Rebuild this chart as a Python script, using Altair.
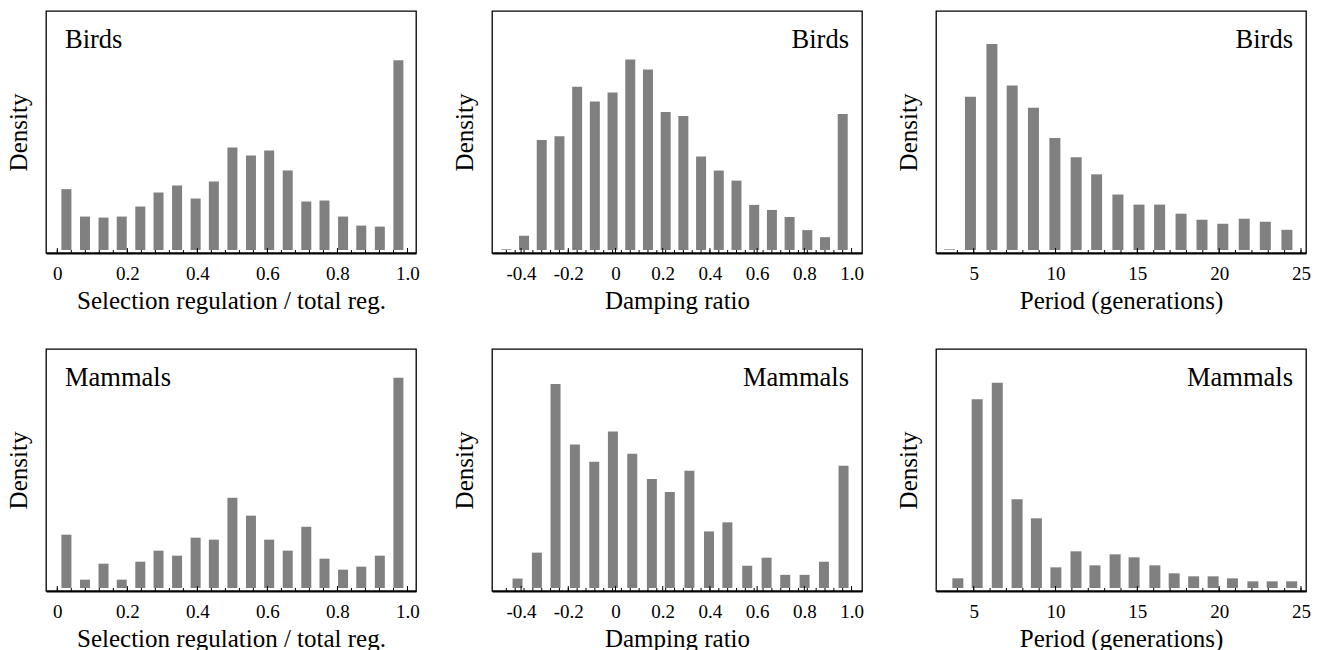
import altair as alt
import pandas as pd

# ---------------- data ----------------
GROUPS = ["Birds", "Mammals"]

SEL_TITLE = "Selection regulation / total reg."
DAMP_TITLE = "Damping ratio"
PER_TITLE = "Period (generations)"

# Selection regulation / total regulation (bin centres, relative density)
SEL_CENTERS = [0.026, 0.079, 0.132, 0.184, 0.237, 0.289, 0.342, 0.395, 0.447, 0.500,
               0.553, 0.605, 0.658, 0.711, 0.763, 0.816, 0.868, 0.921, 0.974]
BIRD_SEL = [1.82, 1.00, 0.97, 1.00, 1.30, 1.72, 1.93, 1.54, 2.05, 3.07,
            2.83, 2.98, 2.38, 1.45, 1.48, 1.00, 0.73, 0.70, 5.68]
MAMMAL_SEL = [1.60, 0.25, 0.73, 0.25, 0.79, 1.12, 0.97, 1.51, 1.45, 2.71,
              2.17, 1.45, 1.12, 1.84, 0.88, 0.55, 0.64, 0.97, 6.31]

# Damping ratio
BIRD_DAMP_CENTERS = [-0.4625, -0.3875, -0.3125, -0.2375, -0.1625, -0.0875, -0.0125, 0.0625,
                     0.1375, 0.2125, 0.2875, 0.3625, 0.4375, 0.5125, 0.5875, 0.6625,
                     0.7375, 0.8125, 0.8875, 0.9625]
BIRD_DAMP = [0.02, 0.42, 3.27, 3.38, 4.85, 4.41, 4.68, 5.66, 5.36, 4.10,
             3.98, 2.78, 2.36, 2.06, 1.34, 1.19, 0.98, 0.59, 0.38, 4.04]
MAMMAL_DAMP_CENTERS = [-0.415, -0.333, -0.254, -0.172, -0.090, -0.011, 0.071, 0.154, 0.230,
                       0.313, 0.396, 0.474, 0.558, 0.640, 0.719, 0.801, 0.883, 0.966]
MAMMAL_DAMP = [0.28, 1.05, 6.06, 4.26, 3.75, 4.65, 3.99, 3.24, 2.85,
               3.48, 1.68, 1.95, 0.66, 0.90, 0.39, 0.39, 0.78, 3.63]

# Period (generations)
BIRD_PER_CENTERS = [3.52, 4.80, 6.11, 7.35, 8.65, 9.96, 11.26, 12.51, 13.81, 15.10,
                    16.36, 17.67, 18.95, 20.22, 21.53, 22.82, 24.14]
BIRD_PER = [0.02, 4.56, 6.13, 4.89, 4.23, 3.33, 2.76, 2.25, 1.65, 1.35,
            1.35, 1.08, 0.90, 0.78, 0.93, 0.84, 0.60]
MAMMAL_PER_CENTERS = [4.03, 5.21, 6.44, 7.65, 8.83, 10.02, 11.25, 12.41, 13.64, 14.80,
                      16.07, 17.25, 18.44, 19.63, 20.81, 22.06, 23.24, 24.43]
MAMMAL_PER = [0.29, 5.66, 6.16, 2.66, 2.09, 0.62, 1.10, 0.68, 1.01, 0.92,
              0.68, 0.44, 0.35, 0.35, 0.29, 0.20, 0.20, 0.20]

# tick labels
SEL_LABELS = [0, 0.2, 0.4, 0.6, 0.8, 1.0]
DAMP_LABELS = [-0.4, -0.2, 0, 0.2, 0.4, 0.6, 0.8, 1.0]
PER_LABELS = [5, 10, 15, 20, 25]

# ---------------- layout / style ----------------
W, H = 370, 242
FONT = "Liberation Serif"
BAR = "#808080"
YBASE = -0.09

SEL_DOM = [-0.018, 1.010]
DAMP_DOM = [-0.502, 1.023]
PER_DOM = [3, 25]

SEL_MINOR = [round(i * 0.04, 4) for i in range(26)]
DAMP_MINOR = [round(-0.4625 + i * 0.0375, 4) for i in range(39)]
PER_MINOR = list(range(4, 26))

NUM_EXPR = ("datum.value < 0 ? '-' + format(-datum.value, '.1f') : "
            "(datum.value == 0 ? '0' : format(datum.value, '.1f'))")
INT_EXPR = "format(datum.value, 'd')"


def panel(centers, heights, xdom, ytop, xtitle, xvals, expr, minor, bar_size, label, side):
    df = pd.DataFrame({"c": centers, "h": heights})
    xenc = alt.X(
        "c:Q",
        scale=alt.Scale(domain=xdom, nice=False, zero=False),
        axis=alt.Axis(values=xvals, labelExpr=expr, title=xtitle, ticks=False, tickSize=0,
                      grid=False, domain=True, domainColor="black", domainWidth=2,
                      labelPadding=11, titlePadding=5, labelFlush=False, labelOverlap=False),
    )
    bars = alt.Chart(df).mark_bar(color=BAR, size=bar_size).encode(
        x=xenc,
        y=alt.Y("h:Q", scale=alt.Scale(domain=[YBASE, ytop], nice=False, zero=False),
                axis=alt.Axis(title="Density", labels=False, ticks=False, domain=False,
                              grid=False, titlePadding=15)),
        y2=alt.datum(0),
    )
    tminor = alt.Chart(pd.DataFrame({"c": minor})).mark_rule(color="black", strokeWidth=1).encode(
        x=xenc, y=alt.value(H), y2=alt.value(H - 3))
    tmajor = alt.Chart(pd.DataFrame({"c": xvals})).mark_rule(color="black", strokeWidth=1).encode(
        x=xenc, y=alt.value(H), y2=alt.value(H - 5))
    if side == "left":
        tx, al = 19, "left"
    else:
        tx, al = W - 13, "right"
    txt = alt.Chart(pd.DataFrame({"t": [label]})).mark_text(
        font=FONT, fontSize=26.5, align=al, baseline="alphabetic", color="black"
    ).encode(x=alt.value(tx), y=alt.value(37), text="t:N")
    return alt.layer(bars, tminor, tmajor, txt).properties(width=W, height=H)


p1 = panel(SEL_CENTERS, BIRD_SEL, SEL_DOM, 7.15, SEL_TITLE, SEL_LABELS, NUM_EXPR, SEL_MINOR, 10, GROUPS[0], "left")
p2 = panel(BIRD_DAMP_CENTERS, BIRD_DAMP, DAMP_DOM, 7.10, DAMP_TITLE, DAMP_LABELS, NUM_EXPR, DAMP_MINOR, 10, GROUPS[0], "right")
p3 = panel(BIRD_PER_CENTERS, BIRD_PER, PER_DOM, 7.11, PER_TITLE, PER_LABELS, INT_EXPR, PER_MINOR, 11, GROUPS[0], "right")
p4 = panel(SEL_CENTERS, MAMMAL_SEL, SEL_DOM, 7.17, SEL_TITLE, SEL_LABELS, NUM_EXPR, SEL_MINOR, 10, GROUPS[1], "left")
p5 = panel(MAMMAL_DAMP_CENTERS, MAMMAL_DAMP, DAMP_DOM, 7.10, DAMP_TITLE, DAMP_LABELS, NUM_EXPR, DAMP_MINOR, 10, GROUPS[1], "right")
p6 = panel(MAMMAL_PER_CENTERS, MAMMAL_PER, PER_DOM, 7.17, PER_TITLE, PER_LABELS, INT_EXPR, PER_MINOR, 11, GROUPS[1], "right")

row1 = alt.hconcat(p1, p2, p3, spacing=30)
row2 = alt.hconcat(p4, p5, p6, spacing=30)

chart = alt.vconcat(row1, row2, spacing=34).properties(
    padding={"left": 5, "top": 10, "right": 0, "bottom": 0},
    background="white",
).configure_view(
    stroke="black", strokeWidth=1.3
).configure_axis(
    labelFont=FONT, labelFontSize=19, labelColor="black",
    titleFont=FONT, titleFontSize=25, titleFontWeight="normal", titleColor="black",
).configure_concat(spacing=30)

chart.save("out.html", embed_options={"renderer": "svg", "actions": False})
